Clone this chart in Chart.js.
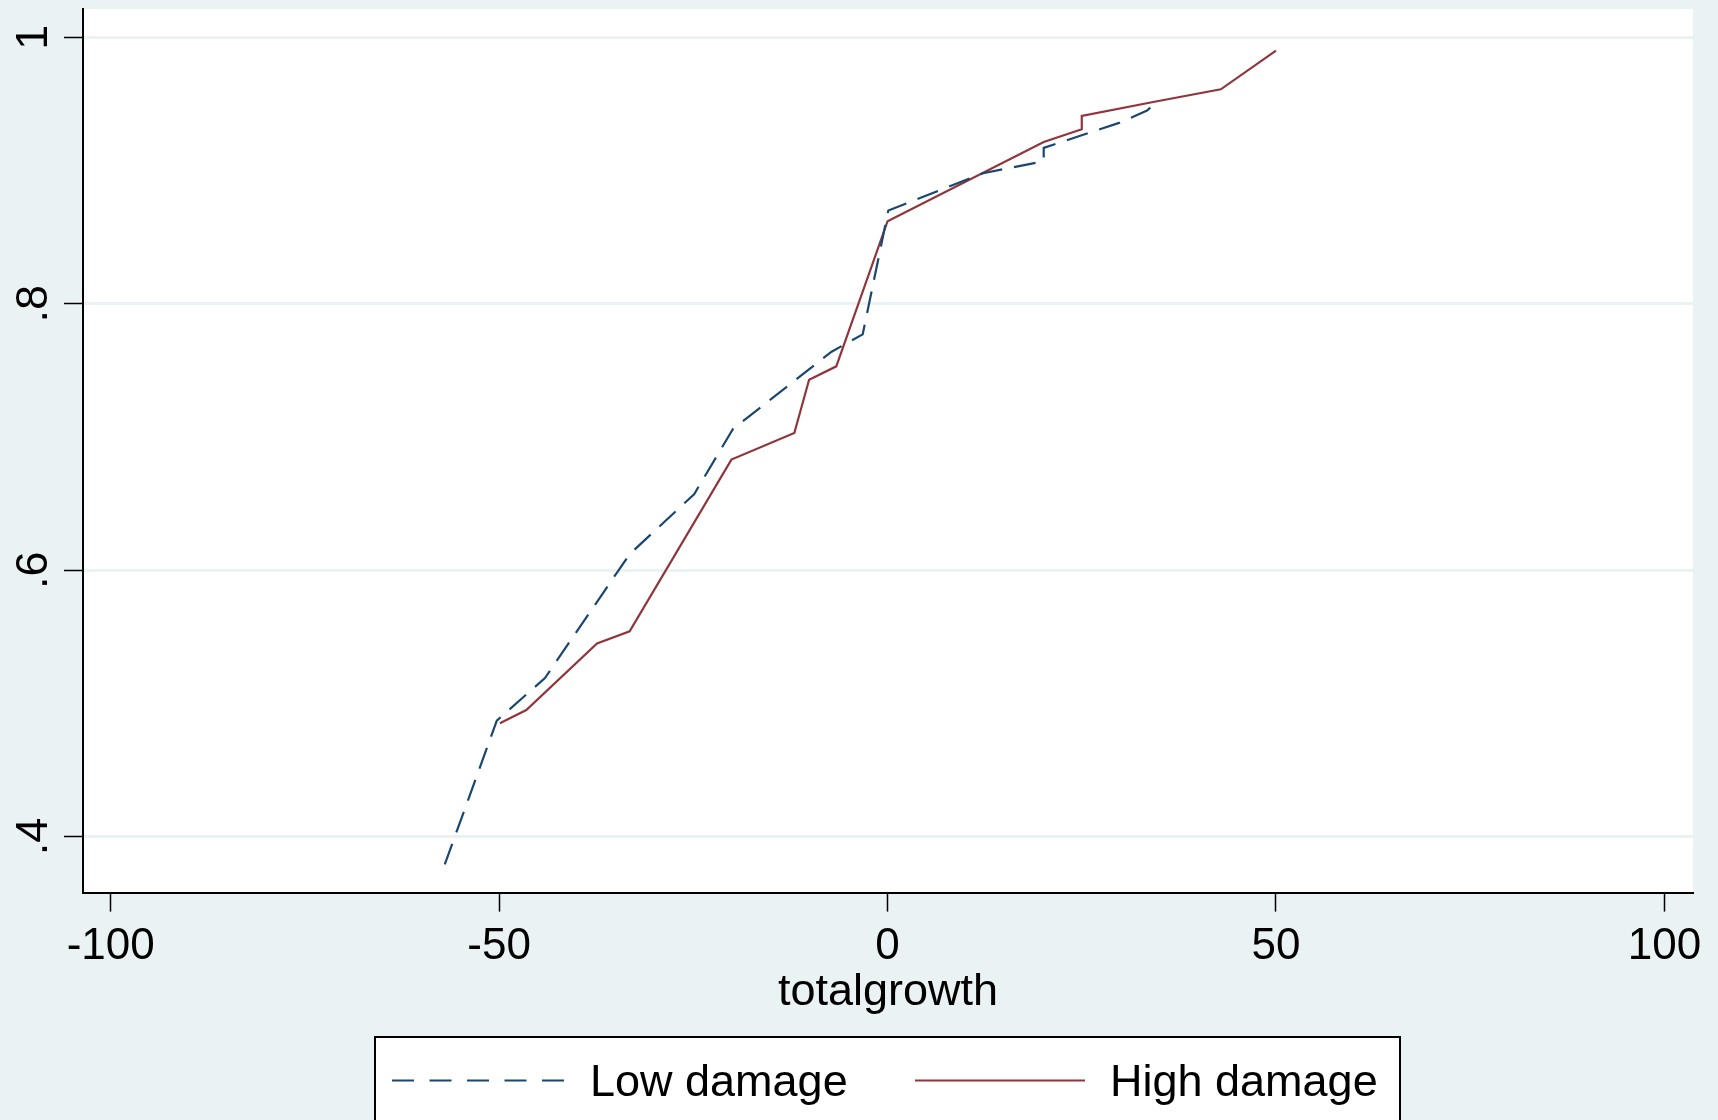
<!DOCTYPE html>
<html>
<head>
<meta charset="utf-8">
<script src="https://cdn.jsdelivr.net/npm/chart.js@4.4.0/dist/chart.umd.min.js"></script>
<style>
  html, body { margin: 0; padding: 0; background: #eaf2f3; }
  #wrap { width: 1718px; height: 1120px; }
</style>
</head>
<body>
<div id="wrap"><canvas id="cdf" width="1718" height="1120"></canvas></div>
<script>
"use strict";

// values
var lowX = [-57.0, -50.3, -44.1, -33.2, -24.9, -19.9, -7.2, -3.2, 0.1, 12.3, 20.1, 20.1, 29.9, 33.4, 34.7];
var lowY = [0.379, 0.487, 0.519, 0.612, 0.657, 0.706, 0.764, 0.777, 0.870, 0.898, 0.907, 0.917, 0.936, 0.945, 0.952];

var highX = [-49.9, -46.5, -37.4, -33.2, -20.1, -12.0, -10.1, -6.6, 0.0, 20.1, 25.0, 25.0, 34.7, 42.9, 50.0];
var highY = [0.485, 0.495, 0.545, 0.554, 0.683, 0.703, 0.743, 0.753, 0.862, 0.9215, 0.931, 0.941, 0.952, 0.961, 0.990];

var seriesNames = ["Low damage", "High damage"];
var xTicks = [-100, -50, 0, 50, 100];
var xTickLabels = ["-100", "-50", "0", "50", "100"];
var yTicks = [0.4, 0.6, 0.8, 1];
var yTickLabels = [".4", ".6", ".8", "1"];
var xTitle = "totalgrowth";

var navy = "#1a476f";
var maroon = "#90353b";
var bgColor = "#eaf2f3";
var fontFamily = "'Liberation Sans', Arial, sans-serif";

var toPoints = function(xs, ys) {
  var pts = [];
  for (var i = 0; i < xs.length; i++) {
    pts.push({ x: xs[i], y: ys[i] });
  }
  return pts;
};

var stataLook = {
  id: "stataLook",
  beforeDraw: function(chart) {
    var ctx = chart.ctx;
    var area = chart.chartArea;
    ctx.save();
    ctx.fillStyle = bgColor;
    ctx.fillRect(0, 0, chart.width, chart.height);
    ctx.fillStyle = "#ffffff";
    ctx.fillRect(area.left, area.top, area.right - area.left, area.bottom - area.top);
    ctx.restore();
  },
  afterDraw: function(chart) {
    var ctx = chart.ctx;
    var yScale = chart.scales.y;

    // rotated y tick labels
    ctx.save();
    ctx.fillStyle = "#000";
    ctx.font = "45px " + fontFamily;
    ctx.textAlign = "center";
    ctx.textBaseline = "alphabetic";
    yTicks.forEach(function(v, i) {
      var py = yScale.getPixelForValue(v);
      ctx.save();
      ctx.translate(47, py);
      ctx.rotate(-Math.PI / 2);
      ctx.fillText(yTickLabels[i], 0, 0);
      ctx.restore();
    });
    ctx.restore();

    // legend box
    ctx.save();
    ctx.fillStyle = "#ffffff";
    ctx.fillRect(375, 1037, 1025, 100);
    ctx.strokeStyle = "#000";
    ctx.lineWidth = 2;
    ctx.strokeRect(375, 1037, 1025, 100);

    var entries = [
      { x0: 392, x1: 564, tx: 590 },
      { x0: 915, x1: 1085, tx: 1110 }
    ];
    chart.data.datasets.forEach(function(ds, i) {
      var e = entries[i];
      ctx.beginPath();
      ctx.strokeStyle = ds.borderColor;
      ctx.lineWidth = 2.2;
      ctx.setLineDash(ds.borderDash.length ? [22, 15.5] : []);
      ctx.moveTo(e.x0, 1080.5);
      ctx.lineTo(e.x1, 1080.5);
      ctx.stroke();
      ctx.setLineDash([]);
      ctx.fillStyle = "#000";
      ctx.font = "45px " + fontFamily;
      ctx.textBaseline = "alphabetic";
      ctx.textAlign = "left";
      ctx.fillText(ds.label, e.tx, 1096);
    });
    ctx.restore();
  }
};

new Chart(document.getElementById("cdf"), {
  type: "line",
  data: {
    datasets: [
      {
        label: seriesNames[0],
        data: toPoints(lowX, lowY),
        borderColor: navy,
        borderWidth: 2.2,
        borderDash: [22, 12],
        pointRadius: 0,
        tension: 0,
        fill: false
      },
      {
        label: seriesNames[1],
        data: toPoints(highX, highY),
        borderColor: maroon,
        borderWidth: 2.2,
        borderDash: [],
        pointRadius: 0,
        tension: 0,
        fill: false
      }
    ]
  },
  options: {
    responsive: false,
    animation: false,
    devicePixelRatio: 1,
    layout: {
      padding: { left: 64, top: 9, right: 25, bottom: 120 }
    },
    plugins: {
      legend: { display: false },
      tooltip: { enabled: false }
    },
    scales: {
      x: {
        type: "linear",
        min: -103.566,
        max: 103.68,
        afterBuildTicks: function(scale) {
          scale.ticks = xTicks.map(function(v) { return { value: v }; });
        },
        ticks: {
          color: "#000",
          padding: 13,
          maxRotation: 0,
          autoSkip: false,
          font: { family: fontFamily, size: 44, lineHeight: 1 },
          callback: function(value) {
            var i = xTicks.indexOf(value);
            return i >= 0 ? xTickLabels[i] : "";
          }
        },
        grid: {
          display: true,
          drawOnChartArea: false,
          drawTicks: true,
          tickLength: 19,
          tickColor: "#000",
          tickWidth: 1.5
        },
        border: { display: true, color: "#000", width: 2 },
        title: {
          display: true,
          text: xTitle,
          color: "#000",
          font: { family: fontFamily, size: 45, lineHeight: 0.32 },
          padding: { top: 4, bottom: 0 }
        }
      },
      y: {
        type: "linear",
        min: 0.35788,
        max: 1.02129,
        afterBuildTicks: function(scale) {
          scale.ticks = yTicks.map(function(v) { return { value: v }; });
        },
        ticks: { display: false },
        grid: {
          display: true,
          color: bgColor,
          lineWidth: 3,
          drawTicks: true,
          tickLength: 19,
          tickColor: "#000",
          tickWidth: 1.5
        },
        border: { display: true, color: "#000", width: 2 }
      }
    }
  },
  plugins: [stataLook]
});
</script>
</body>
</html>
